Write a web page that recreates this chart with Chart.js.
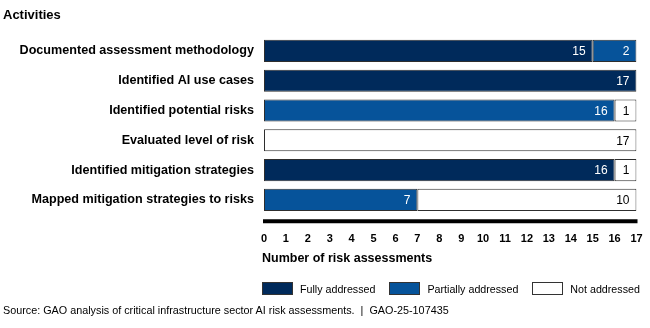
<!DOCTYPE html>
<html>
<head>
<meta charset="utf-8">
<script src="https://cdn.jsdelivr.net/npm/chart.js@4"></script>
<style>
  body { margin: 0; background: #fff; font-family: "Liberation Sans", Arial, sans-serif; }
  #wrap { position: relative; width: 650px; height: 328px; }
  #heading { position: absolute; left: 3px; top: 7px; font-size: 13px; font-weight: bold; color: #000; }
  #axisTitle { position: absolute; left: 262px; top: 251px; font-size: 12.5px; font-weight: bold; color: #000; white-space: nowrap; }
  #legend { position: absolute; left: 262px; top: 282px; display: flex; align-items: center; font-size: 10.7px; color: #000; white-space: nowrap; }
  #legend .item { display: flex; align-items: center; margin-right: 14px; }
  #legend .box { width: 29px; height: 11px; border: 1px solid #333; margin-right: 7px; }
  #source { position: absolute; left: 3px; top: 304px; font-size: 10.8px; color: #000; white-space: nowrap; }
</style>
</head>
<body>
<div id="wrap">
  <canvas id="gaoChart" width="650" height="328"></canvas>
  <div id="heading">Activities</div>
  <div id="axisTitle">Number of risk assessments</div>
  <div id="legend"></div>
  <div id="source">Source: GAO analysis of critical infrastructure sector AI risk assessments.&nbsp; |&nbsp; GAO-25-107435</div>
</div>
<script>
/* ================================
   Data
================================ */
const activities = [
  "Documented assessment methodology",
  "Identified AI use cases",
  "Identified potential risks",
  "Evaluated level of risk",
  "Identified mitigation strategies",
  "Mapped mitigation strategies to risks"
];

const fullyAddressed = [15, 17, 0, 0, 16, 0];
const partiallyAddressed = [2, 0, 16, 0, 0, 7];
const notAddressed = [0, 0, 1, 17, 1, 10];

const seriesNames = ["Fully addressed", "Partially addressed", "Not addressed"];
const seriesColors = ["#002a5b", "#06539a", "#ffffff"];
const labelColors = ["#ffffff", "#ffffff", "#000000"];

const xTicks = [0, 1, 2, 3, 4, 5, 6, 7, 8, 9, 10, 11, 12, 13, 14, 15, 16, 17];

/* ================================
   Plugins
================================ */
// value labels, right aligned inside each segment
const segmentLabels = {
  id: "segmentLabels",
  afterDatasetsDraw(chart) {
    const { ctx } = chart;
    ctx.save();
    ctx.font = "12px 'Liberation Sans', Arial, sans-serif";
    ctx.textAlign = "right";
    ctx.textBaseline = "middle";
    chart.data.datasets.forEach((ds, i) => {
      const meta = chart.getDatasetMeta(i);
      meta.data.forEach((bar, j) => {
        const v = ds.data[j];
        if (!v) return;
        ctx.fillStyle = labelColors[i];
        ctx.fillText(String(v), bar.x - 7, bar.y + 1);
      });
    });
    ctx.restore();
  }
};

// heavy axis rule sitting a little under the last bar
const axisRule = {
  id: "axisRule",
  afterDraw(chart) {
    const { ctx, chartArea, scales } = chart;
    const y = chartArea.bottom + 6.5;
    ctx.save();
    ctx.strokeStyle = "#000";
    ctx.lineWidth = 4;
    ctx.beginPath();
    ctx.moveTo(scales.x.getPixelForValue(xTicks[0]) - 1, y);
    ctx.lineTo(scales.x.getPixelForValue(xTicks[xTicks.length - 1]) + 1, y);
    ctx.stroke();
    ctx.restore();
  }
};

/* ================================
   Chart
================================ */
const values = [fullyAddressed, partiallyAddressed, notAddressed];

new Chart(document.getElementById("gaoChart"), {
  type: "bar",
  data: {
    labels: activities,
    datasets: values.map((arr, i) => ({
      label: seriesNames[i],
      data: arr.map(v => (v === 0 ? null : v)),
      backgroundColor: seriesColors[i],
      borderColor: "#2e2e2e",
      borderWidth: 1,
      borderSkipped: false,
      barPercentage: 0.74,
      categoryPercentage: 1
    }))
  },
  options: {
    indexAxis: "y",
    responsive: false,
    animation: false,
    layout: { padding: { top: 36, right: 13.5, bottom: 81, left: 0 } },
    plugins: {
      legend: { display: false },
      tooltip: { enabled: false }
    },
    scales: {
      x: {
        stacked: true,
        min: xTicks[0],
        max: xTicks[xTicks.length - 1],
        // tick marks are hidden, tickLength only pushes the labels down
        grid: { display: false, drawTicks: true, tickLength: 16 },
        border: { display: false },
        ticks: {
          stepSize: 1,
          padding: 1.5,
          color: "#000",
          maxRotation: 0,
          font: { family: "'Liberation Sans', Arial, sans-serif", size: 11, weight: "bold" }
        }
      },
      y: {
        stacked: true,
        grid: { display: false, drawTicks: false },
        border: { display: false },
        afterFit(scale) { scale.width = 264; },
        ticks: {
          padding: 10,
          color: "#000",
          font: { family: "'Liberation Sans', Arial, sans-serif", size: 12.6, weight: "bold" }
        }
      }
    }
  },
  plugins: [segmentLabels, axisRule]
});

/* ================================
   Legend (HTML)
================================ */
const legendEl = document.getElementById("legend");
seriesNames.forEach((name, i) => {
  const item = document.createElement("div");
  item.className = "item";
  const box = document.createElement("span");
  box.className = "box";
  box.style.background = seriesColors[i];
  const txt = document.createElement("span");
  txt.textContent = name;
  item.appendChild(box);
  item.appendChild(txt);
  legendEl.appendChild(item);
});
</script>
</body>
</html>
